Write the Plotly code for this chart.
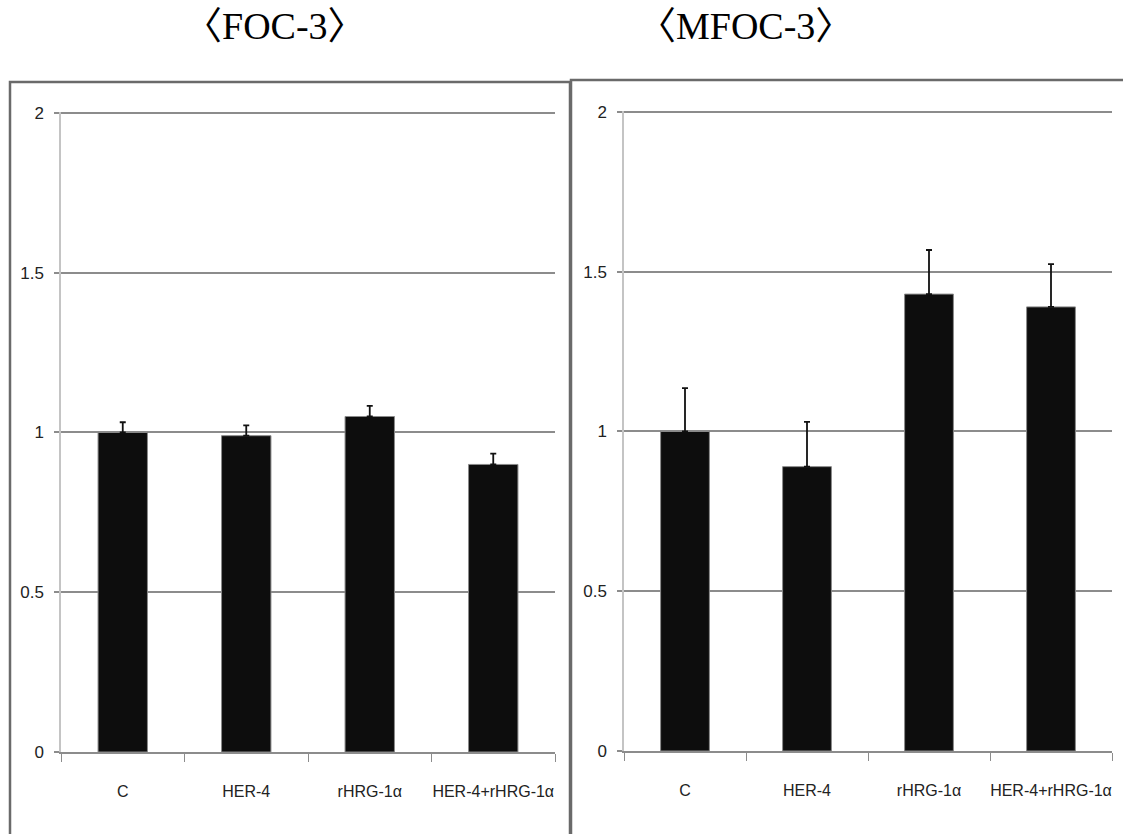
import plotly.graph_objects as go

categories = ["C", "HER-4", "rHRG-1α", "HER-4+rHRG-1α"]
foc3_values = [1.00, 0.99, 1.05, 0.90]
foc3_errors = [0.032, 0.032, 0.033, 0.034]
mfoc3_values = [1.00, 0.89, 1.43, 1.39]
mfoc3_errors = [0.136, 0.14, 0.138, 0.134]
titles = ["〈FOC-3〉", "〈MFOC-3〉"]
y_ticks = [0, 0.5, 1, 1.5, 2]
y_ticklabels = ["0", "0.5", "1", "1.5", "2"]

W, H = 1123, 834

def px(x):
    return x / W

def py(y):
    return 1 - y / H

fig = go.Figure()

for i, (vals, errs) in enumerate([(foc3_values, foc3_errors), (mfoc3_values, mfoc3_errors)]):
    xa = "x" if i == 0 else "x2"
    ya = "y" if i == 0 else "y2"
    fig.add_trace(go.Bar(
        x=categories, y=vals, xaxis=xa, yaxis=ya,
        marker=dict(color="#0d0d0d", line=dict(color="#8a8a8a", width=1)),
        error_y=dict(type="data", array=errs, arrayminus=[0] * len(errs), symmetric=False,
                     color="#111111", thickness=1.8, width=3),
        showlegend=False,
    ))

xfont = dict(family="Liberation Sans Narrow, Liberation Sans, sans-serif", size=16, color="#222222")
yfont = dict(family="Liberation Sans Narrow, Liberation Sans, sans-serif", size=17, color="#222222")

common_x = dict(type="category", showgrid=False, showline=True, linecolor="#8c8c8c", linewidth=1.5,
                ticks="outside", ticklen=8, tickcolor="#8c8c8c", tickwidth=1.2, tickangle=0,
                tickson="boundaries", tickfont=xfont, ticklabelstandoff=24, zeroline=False,
                automargin=False)
common_y = dict(range=[0, 2.004], tickvals=y_ticks, ticktext=y_ticklabels, showgrid=True,
                gridcolor="#8c8c8c", gridwidth=1.5, showline=True, linecolor="#c4c4c4",
                linewidth=1.5, ticks="outside", ticklen=5, tickcolor="#8c8c8c", tickwidth=1.5,
                tickfont=yfont, zeroline=False, ticklabelstandoff=7, automargin=False)

fig.update_layout(
    width=W, height=H,
    margin=dict(l=0, r=0, t=0, b=0, pad=0),
    paper_bgcolor="white", plot_bgcolor="white",
    bargap=0.6,
    xaxis=dict(domain=[px(61), px(555)], anchor="y", **common_x),
    yaxis=dict(domain=[py(752), py(111.7)], anchor="x", **common_y),
    xaxis2=dict(domain=[px(624), px(1112)], anchor="y2", **common_x),
    yaxis2=dict(domain=[py(751), py(110.7)], anchor="x2", **common_y),
    shapes=[
        dict(type="rect", xref="paper", yref="paper", x0=px(10), x1=px(570), y0=-0.2, y1=py(82),
             line=dict(color="#6a6a6a", width=2.5), layer="below"),
        dict(type="rect", xref="paper", yref="paper", x0=px(571), x1=1.2, y0=-0.2, y1=py(80),
             line=dict(color="#6a6a6a", width=2.5), layer="below"),
    ],
    annotations=[
        dict(text=titles[0], x=px(275), y=py(26), xref="paper", yref="paper", showarrow=False,
             font=dict(family="Liberation Serif, Noto Sans CJK JP, serif", size=38, color="#000000"),
             xanchor="center", yanchor="middle"),
        dict(text=titles[1], x=px(745), y=py(26), xref="paper", yref="paper", showarrow=False,
             font=dict(family="Liberation Serif, Noto Sans CJK JP, serif", size=38, color="#000000"),
             xanchor="center", yanchor="middle"),
    ],
)

fig.write_html("out.html", config={"displayModeBar": False},
               post_script="document.body.style.margin='0';document.body.style.overflow='hidden';")
